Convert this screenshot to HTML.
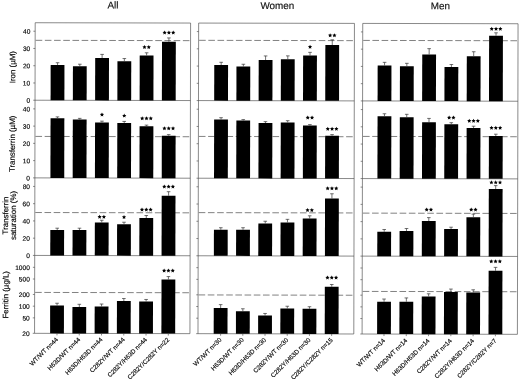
<!DOCTYPE html><html><head><meta charset="utf-8"><title>chart</title><style>
html,body{margin:0;padding:0;background:#fff;}svg{display:block;filter:grayscale(1);}
text{font-family:"Liberation Sans",sans-serif;fill:#000;stroke:#000;stroke-width:0.15;}
.tk{font-size:6.6px;text-anchor:end;}
.xl{font-size:6.3px;text-anchor:end;}
.yl{font-size:7.9px;text-anchor:middle;}
.tt{font-size:9.9px;text-anchor:middle;fill:#111;}
.st{font-size:9.5px;text-anchor:middle;font-weight:bold;fill:#000;}
.fr{fill:none;stroke:#4a4a4a;stroke-width:0.65;}
.ds{fill:none;stroke:#585858;stroke-width:0.75;stroke-dasharray:6.6 2.6;}
.eb{fill:none;stroke:#333;stroke-width:0.7;}
.b{fill:#000;}
</style></head><body>
<svg width="520" height="379" viewBox="0 0 520 379">
<rect width="520" height="379" fill="#fff"/>
<g transform="rotate(0.12 260 190)">
<text class="tt" x="112.5" y="8.9">All</text>
<text class="tt" x="277.0" y="8.9">Women</text>
<text class="tt" x="440.0" y="8.9">Men</text>
<rect class="fr" x="34.85" y="23.20" width="155.40" height="310.60"/>
<path class="fr" d="M34.85 100.70H190.25"/>
<path class="fr" d="M34.85 178.35H190.25"/>
<path class="fr" d="M34.85 255.90H190.25"/>
<path class="fr" d="M34.85 31.70h-1.8"/>
<text class="tk" x="30.0" y="34.30">40</text>
<path class="fr" d="M34.85 48.95h-1.8"/>
<text class="tk" x="30.0" y="51.55">30</text>
<path class="fr" d="M34.85 66.20h-1.8"/>
<text class="tk" x="30.0" y="68.80">20</text>
<path class="fr" d="M34.85 83.45h-1.8"/>
<text class="tk" x="30.0" y="86.05">10</text>
<path class="fr" d="M34.85 100.70h-1.8"/>
<text class="tk" x="30.0" y="103.30">0</text>
<path class="ds" d="M35.35 40.79H190.25"/>
<rect class="b" x="50.40" y="65.42" width="13.80" height="35.28"/>
<path class="eb" d="M57.30 65.42V63.17M55.50 63.17h3.6"/>
<rect class="b" x="72.66" y="66.63" width="13.80" height="34.07"/>
<path class="eb" d="M79.56 66.63V64.60M77.76 64.60h3.6"/>
<rect class="b" x="94.92" y="58.33" width="13.80" height="42.37"/>
<path class="eb" d="M101.82 58.33V54.73M100.02 54.73h3.6"/>
<rect class="b" x="117.18" y="61.53" width="13.80" height="39.17"/>
<path class="eb" d="M124.08 61.53V58.83M122.28 58.83h3.6"/>
<rect class="b" x="139.44" y="55.74" width="13.80" height="44.96"/>
<path class="eb" d="M146.34 55.74V53.04M144.54 53.04h3.6"/>
<rect class="b" x="161.70" y="41.94" width="13.80" height="58.76"/>
<path class="eb" d="M168.60 41.94V38.12M166.80 38.12h3.6"/>
<polygon class="b" points="144.19,45.24 144.81,46.59 146.28,46.76 145.19,47.76 145.48,49.22 144.19,48.49 142.90,49.22 143.19,47.76 142.10,46.76 143.57,46.59"/>
<polygon class="b" points="148.49,45.24 149.11,46.59 150.58,46.76 149.49,47.76 149.78,49.22 148.49,48.49 147.20,49.22 147.49,47.76 146.40,46.76 147.87,46.59"/>
<polygon class="b" points="164.30,30.69 164.92,32.04 166.39,32.21 165.30,33.22 165.59,34.67 164.30,33.94 163.01,34.67 163.30,33.22 162.21,32.21 163.68,32.04"/>
<polygon class="b" points="168.60,30.69 169.22,32.04 170.69,32.21 169.60,33.22 169.89,34.67 168.60,33.94 167.31,34.67 167.60,33.22 166.51,32.21 167.98,32.04"/>
<polygon class="b" points="172.90,30.69 173.52,32.04 174.99,32.21 173.90,33.22 174.19,34.67 172.90,33.94 171.61,34.67 171.90,33.22 170.81,32.21 172.28,32.04"/>
<path class="fr" d="M34.85 109.35h-1.8"/>
<text class="tk" x="30.0" y="111.95">40</text>
<path class="fr" d="M34.85 126.60h-1.8"/>
<text class="tk" x="30.0" y="129.20">30</text>
<path class="fr" d="M34.85 143.85h-1.8"/>
<text class="tk" x="30.0" y="146.45">20</text>
<path class="fr" d="M34.85 161.10h-1.8"/>
<text class="tk" x="30.0" y="163.70">10</text>
<path class="fr" d="M34.85 178.35h-1.8"/>
<text class="tk" x="30.0" y="180.95">0</text>
<path class="ds" d="M35.35 136.89H190.25"/>
<rect class="b" x="50.40" y="118.67" width="13.80" height="59.68"/>
<path class="eb" d="M57.30 118.67V117.32M55.50 117.32h3.6"/>
<rect class="b" x="72.66" y="119.88" width="13.80" height="58.47"/>
<path class="eb" d="M79.56 119.88V118.75M77.76 118.75h3.6"/>
<rect class="b" x="94.92" y="122.83" width="13.80" height="55.52"/>
<path class="eb" d="M101.82 122.83V121.48M100.02 121.48h3.6"/>
<rect class="b" x="117.18" y="123.28" width="13.80" height="55.07"/>
<path class="eb" d="M124.08 123.28V121.71M122.28 121.71h3.6"/>
<rect class="b" x="139.44" y="126.49" width="13.80" height="51.86"/>
<path class="eb" d="M146.34 126.49V125.36M144.54 125.36h3.6"/>
<rect class="b" x="161.70" y="135.94" width="13.80" height="42.41"/>
<path class="eb" d="M168.60 135.94V134.82M166.80 134.82h3.6"/>
<polygon class="b" points="101.82,112.83 102.44,114.18 103.91,114.35 102.82,115.36 103.11,116.81 101.82,116.08 100.53,116.81 100.82,115.36 99.73,114.35 101.20,114.18"/>
<polygon class="b" points="124.08,113.88 124.70,115.24 126.17,115.40 125.08,116.41 125.37,117.86 124.08,117.13 122.79,117.86 123.08,116.41 121.99,115.40 123.46,115.24"/>
<polygon class="b" points="142.04,116.49 142.66,117.84 144.13,118.01 143.04,119.01 143.33,120.47 142.04,119.74 140.75,120.47 141.04,119.01 139.95,118.01 141.42,117.84"/>
<polygon class="b" points="146.34,116.49 146.96,117.84 148.43,118.01 147.34,119.01 147.63,120.47 146.34,119.74 145.05,120.47 145.34,119.01 144.25,118.01 145.72,117.84"/>
<polygon class="b" points="150.64,116.49 151.26,117.84 152.73,118.01 151.64,119.01 151.93,120.47 150.64,119.74 149.35,120.47 149.64,119.01 148.55,118.01 150.02,117.84"/>
<polygon class="b" points="164.30,126.44 164.92,127.79 166.39,127.96 165.30,128.97 165.59,130.42 164.30,129.69 163.01,130.42 163.30,128.97 162.21,127.96 163.68,127.79"/>
<polygon class="b" points="168.60,126.44 169.22,127.79 170.69,127.96 169.60,128.97 169.89,130.42 168.60,129.69 167.31,130.42 167.60,128.97 166.51,127.96 167.98,127.79"/>
<polygon class="b" points="172.90,126.44 173.52,127.79 174.99,127.96 173.90,128.97 174.19,130.42 172.90,129.69 171.61,130.42 171.90,128.97 170.81,127.96 172.28,127.79"/>
<path class="fr" d="M34.85 186.90h-1.8"/>
<text class="tk" x="30.0" y="189.50">80</text>
<path class="fr" d="M34.85 204.15h-1.8"/>
<text class="tk" x="30.0" y="206.75">60</text>
<path class="fr" d="M34.85 221.40h-1.8"/>
<text class="tk" x="30.0" y="224.00">40</text>
<path class="fr" d="M34.85 238.65h-1.8"/>
<text class="tk" x="30.0" y="241.25">20</text>
<path class="fr" d="M34.85 255.90h-1.8"/>
<text class="tk" x="30.0" y="258.50">0</text>
<path class="ds" d="M35.35 212.99H190.25"/>
<rect class="b" x="50.40" y="230.42" width="13.80" height="25.48"/>
<path class="eb" d="M57.30 230.42V228.62M55.50 228.62h3.6"/>
<rect class="b" x="72.66" y="230.38" width="13.80" height="25.52"/>
<path class="eb" d="M79.56 230.38V228.58M77.76 228.58h3.6"/>
<rect class="b" x="94.92" y="222.83" width="13.80" height="33.07"/>
<path class="eb" d="M101.82 222.83V220.58M100.02 220.58h3.6"/>
<rect class="b" x="117.18" y="224.53" width="13.80" height="31.37"/>
<path class="eb" d="M124.08 224.53V222.51M122.28 222.51h3.6"/>
<rect class="b" x="139.44" y="218.24" width="13.80" height="37.66"/>
<path class="eb" d="M146.34 218.24V215.76M144.54 215.76h3.6"/>
<rect class="b" x="161.70" y="195.94" width="13.80" height="59.96"/>
<path class="eb" d="M168.60 195.94V191.89M166.80 191.89h3.6"/>
<polygon class="b" points="99.67,215.08 100.29,216.43 101.76,216.60 100.67,217.61 100.96,219.06 99.67,218.33 98.38,219.06 98.67,217.61 97.58,216.60 99.05,216.43"/>
<polygon class="b" points="103.97,215.08 104.59,216.43 106.06,216.60 104.97,217.61 105.26,219.06 103.97,218.33 102.68,219.06 102.97,217.61 101.88,216.60 103.35,216.43"/>
<polygon class="b" points="124.08,215.28 124.70,216.64 126.17,216.80 125.08,217.81 125.37,219.26 124.08,218.53 122.79,219.26 123.08,217.81 121.99,216.80 123.46,216.64"/>
<polygon class="b" points="142.04,207.74 142.66,209.09 144.13,209.26 143.04,210.26 143.33,211.72 142.04,210.99 140.75,211.72 141.04,210.26 139.95,209.26 141.42,209.09"/>
<polygon class="b" points="146.34,207.74 146.96,209.09 148.43,209.26 147.34,210.26 147.63,211.72 146.34,210.99 145.05,211.72 145.34,210.26 144.25,209.26 145.72,209.09"/>
<polygon class="b" points="150.64,207.74 151.26,209.09 152.73,209.26 151.64,210.26 151.93,211.72 150.64,210.99 149.35,211.72 149.64,210.26 148.55,209.26 150.02,209.09"/>
<polygon class="b" points="164.30,184.69 164.92,186.04 166.39,186.21 165.30,187.22 165.59,188.67 164.30,187.94 163.01,188.67 163.30,187.22 162.21,186.21 163.68,186.04"/>
<polygon class="b" points="168.60,184.69 169.22,186.04 170.69,186.21 169.60,187.22 169.89,188.67 168.60,187.94 167.31,188.67 167.60,187.22 166.51,186.21 167.98,186.04"/>
<polygon class="b" points="172.90,184.69 173.52,186.04 174.99,186.21 173.90,187.22 174.19,188.67 172.90,187.94 171.61,188.67 171.90,187.22 170.81,186.21 172.28,186.04"/>
<path class="fr" d="M34.85 267.80h-1.8"/>
<text class="tk" x="30.0" y="270.40">1000</text>
<path class="fr" d="M34.85 279.49h-1.8"/>
<text class="tk" x="30.0" y="282.09">500</text>
<path class="fr" d="M34.85 294.95h-1.8"/>
<text class="tk" x="30.0" y="297.55">200</text>
<path class="fr" d="M34.85 306.65h-1.8"/>
<text class="tk" x="30.0" y="309.25">100</text>
<path class="fr" d="M34.85 318.34h-1.8"/>
<text class="tk" x="30.0" y="320.94">50</text>
<path class="fr" d="M34.85 333.80h-1.8"/>
<text class="tk" x="30.0" y="336.40">20</text>
<path class="ds" d="M35.35 292.89H190.25"/>
<rect class="b" x="50.40" y="305.92" width="13.80" height="27.88"/>
<path class="eb" d="M57.30 305.92V303.67M55.50 303.67h3.6"/>
<rect class="b" x="72.66" y="307.38" width="13.80" height="26.42"/>
<path class="eb" d="M79.56 307.38V304.68M77.76 304.68h3.6"/>
<rect class="b" x="94.92" y="306.83" width="13.80" height="26.97"/>
<path class="eb" d="M101.82 306.83V304.36M100.02 304.36h3.6"/>
<rect class="b" x="117.18" y="301.28" width="13.80" height="32.52"/>
<path class="eb" d="M124.08 301.28V298.81M122.28 298.81h3.6"/>
<rect class="b" x="139.44" y="301.74" width="13.80" height="32.06"/>
<path class="eb" d="M146.34 301.74V299.71M144.54 299.71h3.6"/>
<rect class="b" x="161.70" y="279.69" width="13.80" height="54.11"/>
<path class="eb" d="M168.60 279.69V276.77M166.80 276.77h3.6"/>
<polygon class="b" points="164.30,268.69 164.92,270.04 166.39,270.21 165.30,271.22 165.59,272.67 164.30,271.94 163.01,272.67 163.30,271.22 162.21,270.21 163.68,270.04"/>
<polygon class="b" points="168.60,268.69 169.22,270.04 170.69,270.21 169.60,271.22 169.89,272.67 168.60,271.94 167.31,272.67 167.60,271.22 166.51,270.21 167.98,270.04"/>
<polygon class="b" points="172.90,268.69 173.52,270.04 174.99,270.21 173.90,271.22 174.19,272.67 172.90,271.94 171.61,272.67 171.90,271.22 170.81,270.21 172.28,270.04"/>
<path class="fr" d="M57.30 333.80v2"/>
<text class="xl" transform="translate(58.80 340.40) rotate(-45)">WT/WT n=44</text>
<path class="fr" d="M79.56 333.80v2"/>
<text class="xl" transform="translate(81.06 340.40) rotate(-45)">H63D/WT n=44</text>
<path class="fr" d="M101.82 333.80v2"/>
<text class="xl" transform="translate(103.32 340.40) rotate(-45)">H63D/H63D n=44</text>
<path class="fr" d="M124.08 333.80v2"/>
<text class="xl" transform="translate(125.58 340.40) rotate(-45)">C282Y/WT n=44</text>
<path class="fr" d="M146.34 333.80v2"/>
<text class="xl" transform="translate(147.84 340.40) rotate(-45)">C282Y/H63D n=44</text>
<path class="fr" d="M168.60 333.80v2"/>
<text class="xl" transform="translate(170.10 340.40) rotate(-45)">C282Y/C282Y n=22</text>
<rect class="fr" x="198.30" y="23.20" width="155.80" height="310.60"/>
<path class="fr" d="M198.30 100.70H354.10"/>
<path class="fr" d="M198.30 178.35H354.10"/>
<path class="fr" d="M198.30 255.90H354.10"/>
<path class="fr" d="M198.30 31.70h-1.8"/>
<path class="fr" d="M198.30 48.95h-1.8"/>
<path class="fr" d="M198.30 66.20h-1.8"/>
<path class="fr" d="M198.30 83.45h-1.8"/>
<path class="fr" d="M198.30 100.70h-1.8"/>
<path class="ds" d="M198.80 40.45H354.10"/>
<rect class="b" x="214.00" y="65.08" width="13.80" height="35.62"/>
<path class="eb" d="M220.90 65.08V62.38M219.10 62.38h3.6"/>
<rect class="b" x="236.21" y="66.54" width="13.80" height="34.16"/>
<path class="eb" d="M243.11 66.54V64.29M241.31 64.29h3.6"/>
<rect class="b" x="258.42" y="59.99" width="13.80" height="40.71"/>
<path class="eb" d="M265.32 59.99V55.94M263.52 55.94h3.6"/>
<rect class="b" x="280.63" y="59.19" width="13.80" height="41.51"/>
<path class="eb" d="M287.53 59.19V55.82M285.73 55.82h3.6"/>
<rect class="b" x="302.84" y="55.40" width="13.80" height="45.30"/>
<path class="eb" d="M309.74 55.40V52.25M307.94 52.25h3.6"/>
<rect class="b" x="325.05" y="44.85" width="13.80" height="55.85"/>
<path class="eb" d="M331.95 44.85V39.67M330.15 39.67h3.6"/>
<polygon class="b" points="309.74,44.65 310.36,46.00 311.83,46.17 310.74,47.17 311.03,48.63 309.74,47.90 308.45,48.63 308.74,47.17 307.65,46.17 309.12,46.00"/>
<polygon class="b" points="329.80,33.10 330.42,34.45 331.89,34.62 330.80,35.62 331.09,37.08 329.80,36.35 328.51,37.08 328.80,35.62 327.71,34.62 329.18,34.45"/>
<polygon class="b" points="334.10,33.10 334.72,34.45 336.19,34.62 335.10,35.62 335.39,37.08 334.10,36.35 332.81,37.08 333.10,35.62 332.01,34.62 333.48,34.45"/>
<path class="fr" d="M198.30 109.35h-1.8"/>
<path class="fr" d="M198.30 126.60h-1.8"/>
<path class="fr" d="M198.30 143.85h-1.8"/>
<path class="fr" d="M198.30 161.10h-1.8"/>
<path class="fr" d="M198.30 178.35h-1.8"/>
<path class="ds" d="M198.80 136.55H354.10"/>
<rect class="b" x="214.00" y="119.58" width="13.80" height="58.77"/>
<path class="eb" d="M220.90 119.58V117.78M219.10 117.78h3.6"/>
<rect class="b" x="236.21" y="120.54" width="13.80" height="57.81"/>
<path class="eb" d="M243.11 120.54V119.64M241.31 119.64h3.6"/>
<rect class="b" x="258.42" y="122.99" width="13.80" height="55.36"/>
<path class="eb" d="M265.32 122.99V121.64M263.52 121.64h3.6"/>
<rect class="b" x="280.63" y="122.44" width="13.80" height="55.91"/>
<path class="eb" d="M287.53 122.44V120.64M285.73 120.64h3.6"/>
<rect class="b" x="302.84" y="125.40" width="13.80" height="52.95"/>
<path class="eb" d="M309.74 125.40V124.50M307.94 124.50h3.6"/>
<rect class="b" x="325.05" y="135.60" width="13.80" height="42.75"/>
<path class="eb" d="M331.95 135.60V134.47M330.15 134.47h3.6"/>
<polygon class="b" points="307.59,115.40 308.21,116.75 309.68,116.92 308.59,117.92 308.88,119.38 307.59,118.65 306.30,119.38 306.59,117.92 305.50,116.92 306.97,116.75"/>
<polygon class="b" points="311.89,115.40 312.51,116.75 313.98,116.92 312.89,117.92 313.18,119.38 311.89,118.65 310.60,119.38 310.89,117.92 309.80,116.92 311.27,116.75"/>
<polygon class="b" points="327.65,126.60 328.27,127.95 329.74,128.12 328.65,129.12 328.94,130.58 327.65,129.85 326.36,130.58 326.65,129.12 325.56,128.12 327.03,127.95"/>
<polygon class="b" points="331.95,126.60 332.57,127.95 334.04,128.12 332.95,129.12 333.24,130.58 331.95,129.85 330.66,130.58 330.95,129.12 329.86,128.12 331.33,127.95"/>
<polygon class="b" points="336.25,126.60 336.87,127.95 338.34,128.12 337.25,129.12 337.54,130.58 336.25,129.85 334.96,130.58 335.25,129.12 334.16,128.12 335.63,127.95"/>
<path class="fr" d="M198.30 186.90h-1.8"/>
<path class="fr" d="M198.30 204.15h-1.8"/>
<path class="fr" d="M198.30 221.40h-1.8"/>
<path class="fr" d="M198.30 238.65h-1.8"/>
<path class="fr" d="M198.30 255.90h-1.8"/>
<path class="ds" d="M198.80 212.75H354.10"/>
<rect class="b" x="214.00" y="229.83" width="13.80" height="26.07"/>
<path class="eb" d="M220.90 229.83V227.81M219.10 227.81h3.6"/>
<rect class="b" x="236.21" y="229.79" width="13.80" height="26.11"/>
<path class="eb" d="M243.11 229.79V227.76M241.31 227.76h3.6"/>
<rect class="b" x="258.42" y="223.49" width="13.80" height="32.41"/>
<path class="eb" d="M265.32 223.49V221.24M263.52 221.24h3.6"/>
<rect class="b" x="280.63" y="222.44" width="13.80" height="33.46"/>
<path class="eb" d="M287.53 222.44V219.29M285.73 219.29h3.6"/>
<rect class="b" x="302.84" y="218.40" width="13.80" height="37.50"/>
<path class="eb" d="M309.74 218.40V215.70M307.94 215.70h3.6"/>
<rect class="b" x="325.05" y="198.35" width="13.80" height="57.55"/>
<path class="eb" d="M331.95 198.35V193.62M330.15 193.62h3.6"/>
<polygon class="b" points="307.59,207.90 308.21,209.25 309.68,209.42 308.59,210.42 308.88,211.88 307.59,211.15 306.30,211.88 306.59,210.42 305.50,209.42 306.97,209.25"/>
<polygon class="b" points="311.89,207.90 312.51,209.25 313.98,209.42 312.89,210.42 313.18,211.88 311.89,211.15 310.60,211.88 310.89,210.42 309.80,209.42 311.27,209.25"/>
<polygon class="b" points="327.65,186.10 328.27,187.45 329.74,187.62 328.65,188.62 328.94,190.08 327.65,189.35 326.36,190.08 326.65,188.62 325.56,187.62 327.03,187.45"/>
<polygon class="b" points="331.95,186.10 332.57,187.45 334.04,187.62 332.95,188.62 333.24,190.08 331.95,189.35 330.66,190.08 330.95,188.62 329.86,187.62 331.33,187.45"/>
<polygon class="b" points="336.25,186.10 336.87,187.45 338.34,187.62 337.25,188.62 337.54,190.08 336.25,189.35 334.96,190.08 335.25,188.62 334.16,187.62 335.63,187.45"/>
<path class="fr" d="M198.30 267.80h-1.8"/>
<path class="fr" d="M198.30 279.49h-1.8"/>
<path class="fr" d="M198.30 294.95h-1.8"/>
<path class="fr" d="M198.30 306.65h-1.8"/>
<path class="fr" d="M198.30 318.34h-1.8"/>
<path class="fr" d="M198.30 333.80h-1.8"/>
<path class="ds" d="M198.80 295.05H354.10"/>
<rect class="b" x="214.00" y="308.08" width="13.80" height="25.72"/>
<path class="eb" d="M220.90 308.08V304.71M219.10 304.71h3.6"/>
<rect class="b" x="236.21" y="311.29" width="13.80" height="22.51"/>
<path class="eb" d="M243.11 311.29V308.81M241.31 308.81h3.6"/>
<rect class="b" x="258.42" y="315.49" width="13.80" height="18.31"/>
<path class="eb" d="M265.32 315.49V313.46M263.52 313.46h3.6"/>
<rect class="b" x="280.63" y="308.44" width="13.80" height="25.36"/>
<path class="eb" d="M287.53 308.44V306.19M285.73 306.19h3.6"/>
<rect class="b" x="302.84" y="308.65" width="13.80" height="25.15"/>
<path class="eb" d="M309.74 308.65V306.62M307.94 306.62h3.6"/>
<rect class="b" x="325.05" y="286.60" width="13.80" height="47.20"/>
<path class="eb" d="M331.95 286.60V284.35M330.15 284.35h3.6"/>
<polygon class="b" points="327.65,275.35 328.27,276.70 329.74,276.87 328.65,277.87 328.94,279.33 327.65,278.60 326.36,279.33 326.65,277.87 325.56,276.87 327.03,276.70"/>
<polygon class="b" points="331.95,275.35 332.57,276.70 334.04,276.87 332.95,277.87 333.24,279.33 331.95,278.60 330.66,279.33 330.95,277.87 329.86,276.87 331.33,276.70"/>
<polygon class="b" points="336.25,275.35 336.87,276.70 338.34,276.87 337.25,277.87 337.54,279.33 336.25,278.60 334.96,279.33 335.25,277.87 334.16,276.87 335.63,276.70"/>
<path class="fr" d="M220.90 333.80v2"/>
<text class="xl" transform="translate(222.40 340.40) rotate(-45)">WT/WT n=30</text>
<path class="fr" d="M243.11 333.80v2"/>
<text class="xl" transform="translate(244.61 340.40) rotate(-45)">H63D/WT n=30</text>
<path class="fr" d="M265.32 333.80v2"/>
<text class="xl" transform="translate(266.82 340.40) rotate(-45)">H63D/H63D n=30</text>
<path class="fr" d="M287.53 333.80v2"/>
<text class="xl" transform="translate(289.03 340.40) rotate(-45)">C282Y/WT n=30</text>
<path class="fr" d="M309.74 333.80v2"/>
<text class="xl" transform="translate(311.24 340.40) rotate(-45)">C282Y/H63D n=30</text>
<path class="fr" d="M331.95 333.80v2"/>
<text class="xl" transform="translate(333.45 340.40) rotate(-45)">C282Y/C282Y n=15</text>
<rect class="fr" x="362.40" y="23.20" width="155.30" height="310.60"/>
<path class="fr" d="M362.40 100.70H517.70"/>
<path class="fr" d="M362.40 178.35H517.70"/>
<path class="fr" d="M362.40 255.90H517.70"/>
<path class="fr" d="M362.40 31.70h-1.8"/>
<path class="fr" d="M362.40 48.95h-1.8"/>
<path class="fr" d="M362.40 66.20h-1.8"/>
<path class="fr" d="M362.40 83.45h-1.8"/>
<path class="fr" d="M362.40 100.70h-1.8"/>
<path class="ds" d="M362.90 40.20H517.70"/>
<rect class="b" x="377.40" y="65.24" width="13.80" height="35.46"/>
<path class="eb" d="M384.30 65.24V62.09M382.50 62.09h3.6"/>
<rect class="b" x="399.68" y="65.94" width="13.80" height="34.76"/>
<path class="eb" d="M406.58 65.94V63.02M404.78 63.02h3.6"/>
<rect class="b" x="421.96" y="54.15" width="13.80" height="46.55"/>
<path class="eb" d="M428.86 54.15V48.30M427.06 48.30h3.6"/>
<rect class="b" x="444.24" y="66.60" width="13.80" height="34.10"/>
<path class="eb" d="M451.14 66.60V64.12M449.34 64.12h3.6"/>
<rect class="b" x="466.52" y="55.80" width="13.80" height="44.90"/>
<path class="eb" d="M473.42 55.80V51.30M471.62 51.30h3.6"/>
<rect class="b" x="488.80" y="35.26" width="13.80" height="65.44"/>
<path class="eb" d="M495.70 35.26V32.33M493.90 32.33h3.6"/>
<polygon class="b" points="491.40,26.26 492.02,27.61 493.49,27.78 492.40,28.78 492.69,30.24 491.40,29.51 490.11,30.24 490.40,28.78 489.31,27.78 490.78,27.61"/>
<polygon class="b" points="495.70,26.26 496.32,27.61 497.79,27.78 496.70,28.78 496.99,30.24 495.70,29.51 494.41,30.24 494.70,28.78 493.61,27.78 495.08,27.61"/>
<polygon class="b" points="500.00,26.26 500.62,27.61 502.09,27.78 501.00,28.78 501.29,30.24 500.00,29.51 498.71,30.24 499.00,28.78 497.91,27.78 499.38,27.61"/>
<path class="fr" d="M362.40 109.35h-1.8"/>
<path class="fr" d="M362.40 126.60h-1.8"/>
<path class="fr" d="M362.40 143.85h-1.8"/>
<path class="fr" d="M362.40 161.10h-1.8"/>
<path class="fr" d="M362.40 178.35h-1.8"/>
<path class="ds" d="M362.90 136.20H517.70"/>
<rect class="b" x="377.40" y="115.99" width="13.80" height="62.36"/>
<path class="eb" d="M384.30 115.99V113.51M382.50 113.51h3.6"/>
<rect class="b" x="399.68" y="116.94" width="13.80" height="61.41"/>
<path class="eb" d="M406.58 116.94V114.02M404.78 114.02h3.6"/>
<rect class="b" x="421.96" y="121.90" width="13.80" height="56.45"/>
<path class="eb" d="M428.86 121.90V118.07M427.06 118.07h3.6"/>
<rect class="b" x="444.24" y="123.85" width="13.80" height="54.50"/>
<path class="eb" d="M451.14 123.85V122.27M449.34 122.27h3.6"/>
<rect class="b" x="466.52" y="127.55" width="13.80" height="50.80"/>
<path class="eb" d="M473.42 127.55V125.75M471.62 125.75h3.6"/>
<rect class="b" x="488.80" y="135.51" width="13.80" height="42.84"/>
<path class="eb" d="M495.70 135.51V133.71M493.90 133.71h3.6"/>
<polygon class="b" points="448.99,115.10 449.61,116.45 451.08,116.62 449.99,117.62 450.28,119.08 448.99,118.35 447.70,119.08 447.99,117.62 446.90,116.62 448.37,116.45"/>
<polygon class="b" points="453.29,115.10 453.91,116.45 455.38,116.62 454.29,117.62 454.58,119.08 453.29,118.35 452.00,119.08 452.29,117.62 451.20,116.62 452.67,116.45"/>
<polygon class="b" points="469.12,118.30 469.74,119.65 471.21,119.82 470.12,120.83 470.41,122.28 469.12,121.55 467.83,122.28 468.12,120.83 467.03,119.82 468.50,119.65"/>
<polygon class="b" points="473.42,118.30 474.04,119.65 475.51,119.82 474.42,120.83 474.71,122.28 473.42,121.55 472.13,122.28 472.42,120.83 471.33,119.82 472.80,119.65"/>
<polygon class="b" points="477.72,118.30 478.34,119.65 479.81,119.82 478.72,120.83 479.01,122.28 477.72,121.55 476.43,122.28 476.72,120.83 475.63,119.82 477.10,119.65"/>
<polygon class="b" points="491.40,125.26 492.02,126.61 493.49,126.78 492.40,127.78 492.69,129.24 491.40,128.51 490.11,129.24 490.40,127.78 489.31,126.78 490.78,126.61"/>
<polygon class="b" points="495.70,125.26 496.32,126.61 497.79,126.78 496.70,127.78 496.99,129.24 495.70,128.51 494.41,129.24 494.70,127.78 493.61,126.78 495.08,126.61"/>
<polygon class="b" points="500.00,125.26 500.62,126.61 502.09,126.78 501.00,127.78 501.29,129.24 500.00,128.51 498.71,129.24 499.00,127.78 497.91,126.78 499.38,126.61"/>
<path class="fr" d="M362.40 186.90h-1.8"/>
<path class="fr" d="M362.40 204.15h-1.8"/>
<path class="fr" d="M362.40 221.40h-1.8"/>
<path class="fr" d="M362.40 238.65h-1.8"/>
<path class="fr" d="M362.40 255.90h-1.8"/>
<path class="ds" d="M362.90 212.90H517.70"/>
<rect class="b" x="377.40" y="231.49" width="13.80" height="24.41"/>
<path class="eb" d="M384.30 231.49V229.24M382.50 229.24h3.6"/>
<rect class="b" x="399.68" y="230.69" width="13.80" height="25.21"/>
<path class="eb" d="M406.58 230.69V228.22M404.78 228.22h3.6"/>
<rect class="b" x="421.96" y="220.65" width="13.80" height="35.25"/>
<path class="eb" d="M428.86 220.65V217.27M427.06 217.27h3.6"/>
<rect class="b" x="444.24" y="228.60" width="13.80" height="27.30"/>
<path class="eb" d="M451.14 228.60V226.80M449.34 226.80h3.6"/>
<rect class="b" x="466.52" y="216.80" width="13.80" height="39.10"/>
<path class="eb" d="M473.42 216.80V213.65M471.62 213.65h3.6"/>
<rect class="b" x="488.80" y="188.51" width="13.80" height="67.39"/>
<path class="eb" d="M495.70 188.51V185.13M493.90 185.13h3.6"/>
<polygon class="b" points="426.71,207.15 427.33,208.50 428.80,208.67 427.71,209.67 428.00,211.13 426.71,210.40 425.42,211.13 425.71,209.67 424.62,208.67 426.09,208.50"/>
<polygon class="b" points="431.01,207.15 431.63,208.50 433.10,208.67 432.01,209.67 432.30,211.13 431.01,210.40 429.72,211.13 430.01,209.67 428.92,208.67 430.39,208.50"/>
<polygon class="b" points="471.27,207.05 471.89,208.40 473.36,208.57 472.27,209.58 472.56,211.03 471.27,210.30 469.98,211.03 470.27,209.58 469.18,208.57 470.65,208.40"/>
<polygon class="b" points="475.57,207.05 476.19,208.40 477.66,208.57 476.57,209.58 476.86,211.03 475.57,210.30 474.28,211.03 474.57,209.58 473.48,208.57 474.95,208.40"/>
<polygon class="b" points="491.40,179.81 492.02,181.16 493.49,181.33 492.40,182.33 492.69,183.79 491.40,183.06 490.11,183.79 490.40,182.33 489.31,181.33 490.78,181.16"/>
<polygon class="b" points="495.70,179.81 496.32,181.16 497.79,181.33 496.70,182.33 496.99,183.79 495.70,183.06 494.41,183.79 494.70,182.33 493.61,181.33 495.08,181.16"/>
<polygon class="b" points="500.00,179.81 500.62,181.16 502.09,181.33 501.00,182.33 501.29,183.79 500.00,183.06 498.71,183.79 499.00,182.33 497.91,181.33 499.38,181.16"/>
<path class="fr" d="M362.40 267.80h-1.8"/>
<path class="fr" d="M362.40 279.49h-1.8"/>
<path class="fr" d="M362.40 294.95h-1.8"/>
<path class="fr" d="M362.40 306.65h-1.8"/>
<path class="fr" d="M362.40 318.34h-1.8"/>
<path class="fr" d="M362.40 333.80h-1.8"/>
<path class="ds" d="M362.90 291.20H517.70"/>
<rect class="b" x="377.40" y="301.49" width="13.80" height="32.31"/>
<path class="eb" d="M384.30 301.49V298.79M382.50 298.79h3.6"/>
<rect class="b" x="399.68" y="301.44" width="13.80" height="32.36"/>
<path class="eb" d="M406.58 301.44V297.62M404.78 297.62h3.6"/>
<rect class="b" x="421.96" y="296.15" width="13.80" height="37.65"/>
<path class="eb" d="M428.86 296.15V293.45M427.06 293.45h3.6"/>
<rect class="b" x="444.24" y="291.60" width="13.80" height="42.20"/>
<path class="eb" d="M451.14 291.60V288.67M449.34 288.67h3.6"/>
<rect class="b" x="466.52" y="292.05" width="13.80" height="41.75"/>
<path class="eb" d="M473.42 292.05V289.35M471.62 289.35h3.6"/>
<rect class="b" x="488.80" y="270.26" width="13.80" height="63.54"/>
<path class="eb" d="M495.70 270.26V266.88M493.90 266.88h3.6"/>
<polygon class="b" points="491.40,258.76 492.02,260.11 493.49,260.28 492.40,261.28 492.69,262.74 491.40,262.01 490.11,262.74 490.40,261.28 489.31,260.28 490.78,260.11"/>
<polygon class="b" points="495.70,258.76 496.32,260.11 497.79,260.28 496.70,261.28 496.99,262.74 495.70,262.01 494.41,262.74 494.70,261.28 493.61,260.28 495.08,260.11"/>
<polygon class="b" points="500.00,258.76 500.62,260.11 502.09,260.28 501.00,261.28 501.29,262.74 500.00,262.01 498.71,262.74 499.00,261.28 497.91,260.28 499.38,260.11"/>
<path class="fr" d="M384.30 333.80v2"/>
<text class="xl" transform="translate(385.80 340.80) rotate(-45)">WT/WT n=14</text>
<path class="fr" d="M406.58 333.80v2"/>
<text class="xl" transform="translate(408.08 340.80) rotate(-45)">H63D/WT n=14</text>
<path class="fr" d="M428.86 333.80v2"/>
<text class="xl" transform="translate(430.36 340.80) rotate(-45)">H63D/H63D n=14</text>
<path class="fr" d="M451.14 333.80v2"/>
<text class="xl" transform="translate(452.64 340.80) rotate(-45)">C282Y/WT n=14</text>
<path class="fr" d="M473.42 333.80v2"/>
<text class="xl" transform="translate(474.92 340.80) rotate(-45)">C282Y/H63D n=14</text>
<path class="fr" d="M495.70 333.80v2"/>
<text class="xl" transform="translate(497.20 340.80) rotate(-45)">C282Y/C282Y n=7</text>
<text class="yl" transform="translate(15.00 67.70) rotate(-90)">Iron (µM)</text>
<text class="yl" transform="translate(14.80 144.40) rotate(-90)">Transferrin (µM)</text>
<text class="yl" transform="translate(8.20 216.00) rotate(-90)">Transferrin</text>
<text class="yl" transform="translate(16.00 216.00) rotate(-90)">saturation (%)</text>
<text class="yl" transform="translate(8.60 295.30) rotate(-90)">Ferritin (µg/L)</text>
</g></svg></body></html>
